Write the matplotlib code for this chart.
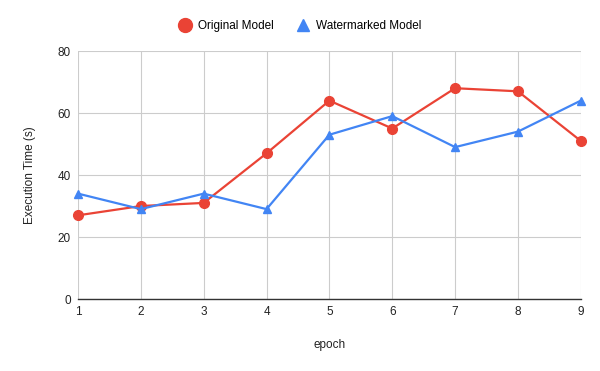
import matplotlib
matplotlib.use("Agg")
import matplotlib.pyplot as plt
from matplotlib.lines import Line2D

plt.rcParams['font.family'] = ['Liberation Sans', 'DejaVu Sans']

epochs = [1, 2, 3, 4, 5, 6, 7, 8, 9]
original = [27, 30, 31, 47, 64, 55, 68, 67, 51]
watermarked = [34, 29, 34, 29, 53, 59, 49, 54, 64]
y_ticks = [0, 20, 40, 60, 80]

red = '#EA4335'
blue = '#4285F4'

fig = plt.figure(figsize=(6, 3.71), dpi=100)
ax = fig.add_axes([0.13, 0.194, 0.838, 0.6685])

ax.plot(epochs, original, color=red, lw=1.6, marker='o', ms=7,
        zorder=3, clip_on=False)
ax.plot(epochs, watermarked, color=blue, lw=1.6, marker='^', ms=5.5,
        zorder=3, clip_on=False)

ax.set_xlim(1, 9)
ax.set_ylim(0, 80)
ax.set_xticks(epochs)
ax.set_yticks(y_ticks)
ax.grid(True, color='#cccccc', lw=0.8)
ax.set_axisbelow(True)
for s in ['top', 'right', 'left']:
    ax.spines[s].set_visible(False)
ax.spines['bottom'].set_color('#333333')
ax.spines['bottom'].set_linewidth(1.0)
ax.tick_params(length=0, labelsize=8.5, colors='#222222', pad=5)

ax.set_xlabel('epoch', fontsize=8.5, color='#222222', labelpad=15)
ax.set_ylabel('Execution Time (s)', fontsize=8.5, color='#222222', labelpad=16)

# legend shows markers only, like the sheets chart
handles = [
    Line2D([], [], ls='none', marker='o', ms=10, color=red),
    Line2D([], [], ls='none', marker='^', ms=8, color=blue),
]
fig.legend(handles, ['Original Model', 'Watermarked Model'],
           loc='upper center', bbox_to_anchor=(0.5, 0.975), ncol=2,
           frameon=False, fontsize=8.5, handlelength=1.0, columnspacing=2.0,
           handletextpad=0.6)

fig.savefig('out.png', dpi=100, facecolor='white')
